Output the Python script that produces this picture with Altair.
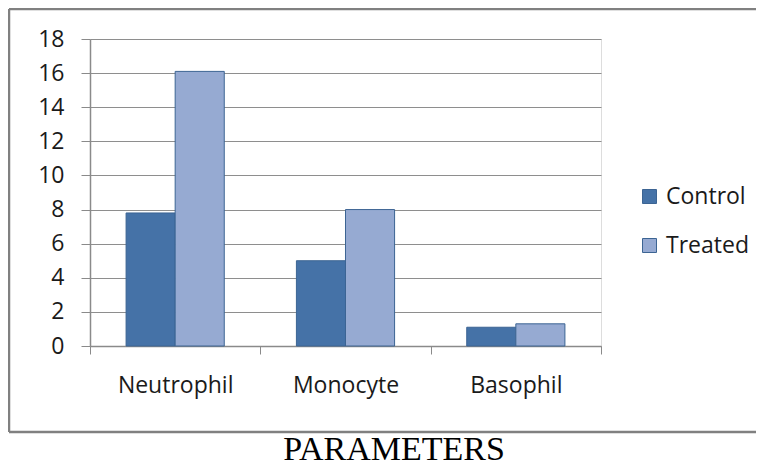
import altair as alt
import pandas as pd

categories = ["Neutrophil", "Monocyte", "Basophil"]
series = ["Control", "Treated"]
control_values = [7.8, 5.0, 1.1]
treated_values = [16.1, 8.0, 1.3]
y_ticks = [0, 2, 4, 6, 8, 10, 12, 14, 16, 18]
x_title = "PARAMETERS"

rows = []
for c, cv, tv in zip(categories, control_values, treated_values):
    rows.append({"cat": c, "series": series[0], "value": cv})
    rows.append({"cat": c, "series": series[1], "value": tv})
df = pd.DataFrame(rows)

W, H = 511, 307
FONT = "Open Sans"
FS = 23

bars = alt.Chart(df).mark_bar(stroke="#3C6493", strokeWidth=1).encode(
    x=alt.X("cat:N", sort=categories, title=None,
            scale=alt.Scale(paddingInner=0, paddingOuter=0),
            axis=alt.Axis(labelAngle=0, labelFontSize=FS, labelFont=FONT,
                          labelColor="#1a1a1a", tickBand="extent", tickSize=8,
                          tickColor="#8a8a8a", domainColor="#8a8a8a",
                          domainWidth=1.5, labelPadding=20, grid=False)),
    xOffset=alt.XOffset("series:N", sort=series,
                        scale=alt.Scale(paddingInner=0, paddingOuter=0.735)),
    y=alt.Y("value:Q", title=None,
            scale=alt.Scale(domain=[0, 18], nice=False),
            axis=alt.Axis(values=y_ticks, labelFontSize=FS, labelFont=FONT,
                          labelColor="#1a1a1a", tickSize=9, tickColor="#8a8a8a",
                          domainColor="#8a8a8a", domainWidth=1.5,
                          gridColor="#8e8e8e", gridWidth=1.2, labelPadding=17)),
    color=alt.Color("series:N", sort=series, title=None,
                    scale=alt.Scale(domain=series, range=["#4572A7", "#96AAD2"]),
                    legend=alt.Legend(orient="none", legendX=548, legendY=146,
                                      symbolType="square", symbolSize=196,
                                      symbolStrokeColor="#3C6493", symbolStrokeWidth=1,
                                      labelFontSize=FS, labelFont=FONT,
                                      labelColor="#1a1a1a", rowPadding=25,
                                      labelOffset=5)),
)

one = pd.DataFrame({"a": [0]})
frame_style = dict(stroke="#808080", strokeWidth=2.5)
top_rule = alt.Chart(one).mark_rule(**frame_style).encode(
    x=alt.value(-81), x2=alt.value(760), y=alt.value(-30))
bottom_rule = alt.Chart(one).mark_rule(**frame_style).encode(
    x=alt.value(-81), x2=alt.value(760), y=alt.value(393))
left_rule = alt.Chart(one).mark_rule(**frame_style).encode(
    x=alt.value(-81), y=alt.value(-30), y2=alt.value(393))

title = alt.Chart(pd.DataFrame({"t": [x_title]})).mark_text(
    font="Liberation Serif", fontSize=34, color="#000000", baseline="middle"
).encode(text="t:N", x=alt.value(304), y=alt.value(411))

chart = alt.layer(top_rule, bottom_rule, left_rule, bars, title).properties(
    width=W, height=H,
    autosize=alt.AutoSizeParams(type="none"),
    padding={"left": 82, "top": 31, "right": 155, "bottom": 120},
).configure_view(fill="#E8ECF4", stroke=None).configure(background="white")

chart.save("out.html", embed_options={"renderer": "svg", "actions": False})
